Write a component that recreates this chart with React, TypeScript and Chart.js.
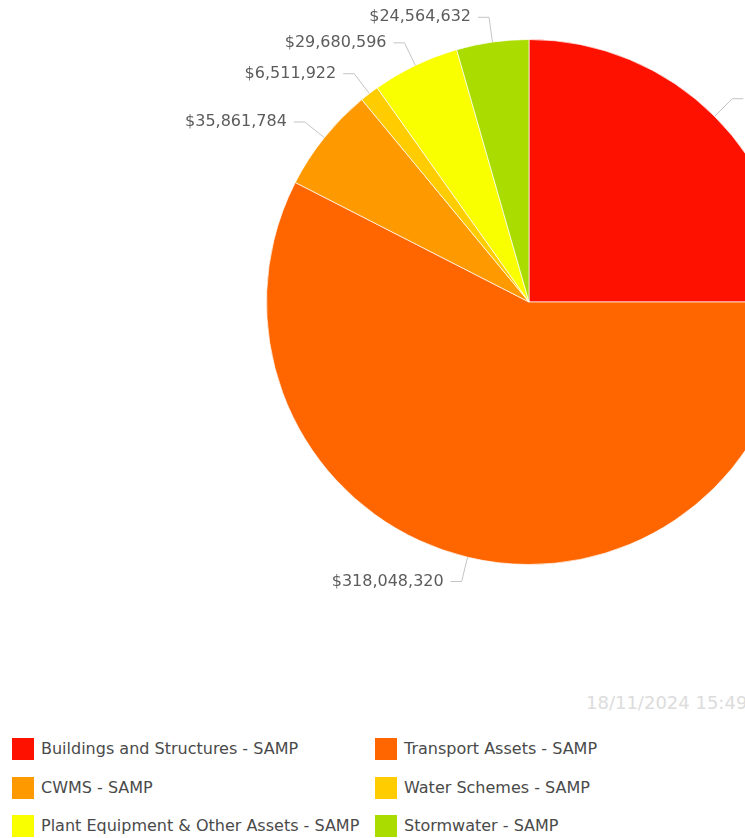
import React, { useEffect, useRef } from 'react';
import { Chart, registerables } from 'chart.js';

Chart.register(...registerables);

const categories: string[] = [
  'Buildings and Structures - SAMP',
  'Transport Assets - SAMP',
  'CWMS - SAMP',
  'Water Schemes - SAMP',
  'Plant Equipment & Other Assets - SAMP',
  'Stormwater - SAMP',
];
const values: number[] = [138222418, 318048320, 35861784, 6511922, 29680596, 24564632];
const colors: string[] = ['#FF1100', '#FF6600', '#FF9900', '#FFCC00', '#FAFF00', '#AADC00'];
const timestamp = '18/11/2024 15:49';

const FONT = '"DejaVu Sans", Verdana, sans-serif';

const fmt = (v: number) => '$' + String(Math.round(v)).replace(/\B(?=(\d{3})+(?!\d))/g, ',');

const labelPlugin = {
  id: 'pieLabels',
  afterDatasetsDraw(chart: any) {
    const ctx = chart.ctx as CanvasRenderingContext2D;
    const meta = chart.getDatasetMeta(0);
    ctx.save();
    ctx.font = `16px ${FONT}`;
    ctx.textBaseline = 'middle';
    meta.data.forEach((arc: any, i: number) => {
      const { x, y, startAngle, endAngle, outerRadius } = arc.getProps(
        ['x', 'y', 'startAngle', 'endAngle', 'outerRadius'],
        true
      );
      const mid = (startAngle + endAngle) / 2;
      const c = Math.cos(mid);
      const s = Math.sin(mid);
      const x0 = x + c * outerRadius;
      const y0 = y + s * outerRadius;
      const r1 = outerRadius + 25;
      const x1 = x + c * r1;
      const y1 = y + s * r1;
      const right = c >= 0;
      const x2 = x1 + (right ? 11 : -11);
      ctx.strokeStyle = '#c4c4c4';
      ctx.lineWidth = 1;
      ctx.beginPath();
      ctx.moveTo(x0, y0);
      ctx.lineTo(x1, y1);
      ctx.lineTo(x2, y1);
      ctx.stroke();
      ctx.fillStyle = '#5c5c5c';
      ctx.textAlign = right ? 'left' : 'right';
      ctx.fillText(fmt(values[i]), x2 + (right ? 7 : -7), y1);
    });
    ctx.restore();
  },
};

export default function App() {
  const canvasRef = useRef<HTMLCanvasElement | null>(null);

  useEffect(() => {
    if (!canvasRef.current) return;
    const chart = new Chart(canvasRef.current, {
      type: 'pie',
      data: {
        labels: categories,
        datasets: [
          {
            data: values,
            backgroundColor: colors,
            borderColor: 'rgba(255,255,255,0.7)',
            borderWidth: 1,
          },
        ],
      },
      options: {
        responsive: false,
        animation: false,
        layout: { padding: { top: 31, bottom: 31, left: 0, right: 0 } },
        plugins: {
          legend: { display: false },
          tooltip: { enabled: false },
        },
      },
      plugins: [labelPlugin],
    });
    return () => chart.destroy();
  }, []);

  return (
    <div
      style={{
        position: 'fixed',
        left: 0,
        top: 0,
        width: 745,
        height: 838,
        overflow: 'hidden',
        background: '#ffffff',
        fontFamily: FONT,
      }}
    >
      <canvas
        ref={canvasRef}
        width={1042}
        height={588}
        style={{ position: 'absolute', left: 8, top: 8, width: 1042, height: 588 }}
      />
      <div
        style={{
          position: 'absolute',
          left: 586,
          top: 692,
          fontSize: 18,
          color: '#dcdcdc',
          whiteSpace: 'nowrap',
          lineHeight: '22px',
        }}
      >
        {timestamp}
      </div>
      {categories.map((name, i) => {
        const col = i % 2;
        const row = Math.floor(i / 2);
        const cy = 749 + row * 38.5;
        return (
          <div
            key={name}
            style={{
              position: 'absolute',
              left: 12 + col * 363,
              top: cy - 11,
              height: 22,
              display: 'flex',
              alignItems: 'center',
              whiteSpace: 'nowrap',
            }}
          >
            <span
              style={{
                display: 'inline-block',
                width: 22,
                height: 22,
                background: colors[i],
                marginRight: 7,
              }}
            />
            <span style={{ fontSize: 16, color: '#4a4a4a', lineHeight: '22px' }}>{name}</span>
          </div>
        );
      })}
    </div>
  );
}
